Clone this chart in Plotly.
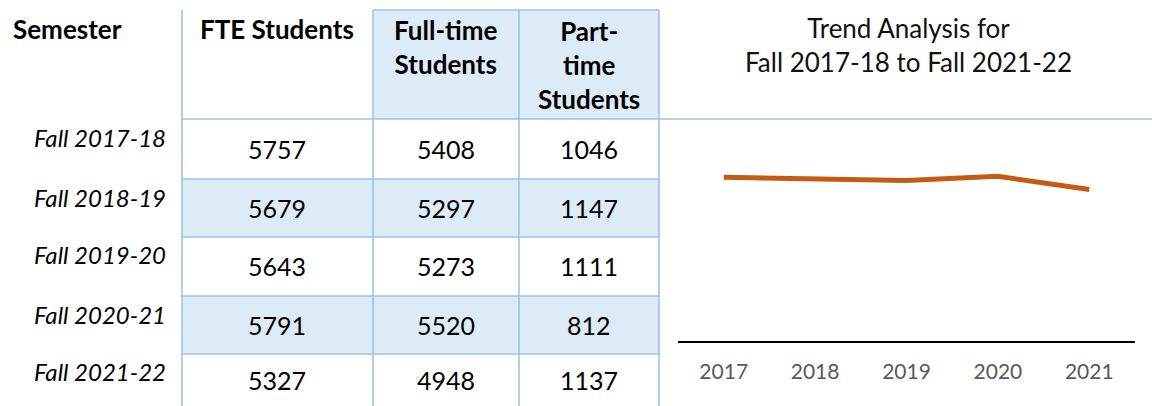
import plotly.graph_objects as go

# ---- data ----
headers = ["Semester", "FTE Students", "Full-time<br>Students", "Part-<br>time<br>Students"]
semesters = ["Fall 2017-18", "Fall 2018-19", "Fall 2019-20", "Fall 2020-21", "Fall 2021-22"]
fte = [5757, 5679, 5643, 5791, 5327]
full_time = [5408, 5297, 5273, 5520, 4948]
part_time = [1046, 1147, 1111, 812, 1137]
years = ["2017", "2018", "2019", "2020", "2021"]
chart_title = "Trend Analysis for<br>Fall 2017-18 to Fall 2021-22"

W, H = 1152, 406
FONT = "Lato"
BORDER = "#9DC3E6"
SHADE = "#DDEBF7"

fig = go.Figure()

# trend line (FTE)
fig.add_trace(go.Scatter(x=years, y=fte, mode="lines",
                         line=dict(color="#C55A11", width=5),
                         hoverinfo="skip", xaxis="x", yaxis="y"))
# invisible trace to activate helper axes
fig.add_trace(go.Scatter(x=[0], y=[0], mode="markers", marker=dict(opacity=0),
                         hoverinfo="skip", xaxis="x2", yaxis="y2"))

# table geometry (pixels)
col_x = [182, 373, 519, 659]
row_y = [119, 179, 237, 296, 354, 406]
hdr_top = 10

shapes = []
shapes.append(dict(type="rect", x0=col_x[1], x1=col_x[3], y0=hdr_top, y1=row_y[0],
                   fillcolor=SHADE, line=dict(width=0)))
for i in (1, 3):
    shapes.append(dict(type="rect", x0=col_x[0], x1=col_x[3], y0=row_y[i], y1=row_y[i + 1],
                       fillcolor=SHADE, line=dict(width=0)))
for cx in col_x:
    shapes.append(dict(type="line", x0=cx, x1=cx, y0=hdr_top, y1=H,
                       line=dict(color=BORDER, width=1.6)))
shapes.append(dict(type="line", x0=col_x[1], x1=col_x[3], y0=hdr_top, y1=hdr_top,
                   line=dict(color=BORDER, width=1.6)))
shapes.append(dict(type="line", x0=col_x[0], x1=W, y0=row_y[0], y1=row_y[0],
                   line=dict(color=BORDER, width=1.6)))
for ry in row_y[1:-1]:
    shapes.append(dict(type="line", x0=col_x[0], x1=col_x[3], y0=ry, y1=ry,
                       line=dict(color=BORDER, width=1.6)))
for s in shapes:
    s.update(xref="x2", yref="y2", layer="below")

ann = []
def add_text(x, y, text, size=24, color="black", xanchor="center", bold=False):
    ann.append(dict(x=x, y=y, xref="x2", yref="y2", text=(f"<b>{text}</b>" if bold else text),
                    showarrow=False, xanchor=xanchor, yanchor="middle",
                    font=dict(family=FONT, size=size, color=color)))

hdr_pos = [(67, 29), (277, 29), (446, 47), (589, 65)]
for (hx, hy), h in zip(hdr_pos, headers):
    add_text(hx, hy, h, size=26, bold=True)

label_y = [137, 197, 254, 314, 371]
cell_y = [149, 208, 266, 325, 380]
col_c = [277, 446, 589]
for i, sem in enumerate(semesters):
    add_text(168, label_y[i], f"<i>{sem}</i>", size=24, xanchor="right")
    for cx, series in zip(col_c, (fte, full_time, part_time)):
        add_text(cx, cell_y[i], str(series[i]), size=25)

add_text(908, 45, chart_title, size=26, color="#111111")

fig.update_layout(
    width=W, height=H,
    margin=dict(l=0, r=0, t=0, b=0),
    paper_bgcolor="white", plot_bgcolor="rgba(0,0,0,0)",
    showlegend=False,
    shapes=shapes, annotations=ann,
    xaxis=dict(domain=[678 / W, 1135 / W], type="category", range=[-0.5, 4.5],
               showline=True, linecolor="black", linewidth=2, showgrid=False,
               zeroline=False, ticks="", ticklabelstandoff=11,
               tickfont=dict(family=FONT, size=21, color="#595959"), fixedrange=True),
    yaxis=dict(domain=[(H - 341) / H, (H - 142) / H], range=[0, 7000], visible=False,
               fixedrange=True),
    xaxis2=dict(domain=[0, 1], range=[0, W], visible=False, anchor="y2", fixedrange=True),
    yaxis2=dict(domain=[0, 1], range=[H, 0], visible=False, anchor="x2", fixedrange=True),
)

fig.write_html("out.html", config={"displayModeBar": False},
               post_script="document.body.style.margin='0';")
